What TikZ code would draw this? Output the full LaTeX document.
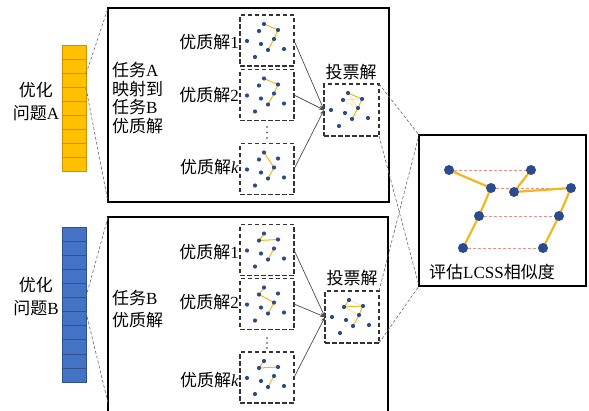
\documentclass[tikz,border=0pt]{standalone}
\usepackage{fontspec}
\setmainfont{Liberation Serif}
\newfontfamily\cjk{Noto Sans CJK SC}
\usetikzlibrary{arrows.meta}
\newcommand\cj[1]{{\cjk #1}}
\definecolor{barY}{HTML}{FFC000}
\definecolor{barYline}{HTML}{D08F00}
\definecolor{barB}{HTML}{4472C4}
\definecolor{barBline}{HTML}{2F528F}
\definecolor{dotblue}{HTML}{2B4C8C}
\definecolor{lineY}{HTML}{F2B71C}
\definecolor{pinkdash}{HTML}{F08C8C}
% #1 box name, #2 solid yellow segments, #3 faint yellow segments
\newcommand\solset[3]{%
  \begin{scope}[shift={(#1.north west)}]
    \foreach \i/\px/\py in {1/24/9,2/19/16,3/38/15,4/7/26,5/21/29,6/34/24,7/28/35,8/44/34,9/15/42}
      {\coordinate (#1-\i) at (\px,\py);}
  \end{scope}
  \foreach \a/\b in {#3} {\draw[ylink, opacity=0.35] (#1-\a) -- (#1-\b);}
  \foreach \a/\b in {#2} {\draw[ylink] (#1-\a) -- (#1-\b);}
  \foreach \i in {1,...,9} {\fill[dotblue] (#1-\i) circle (2.1);}
}
\begin{document}
\begin{tikzpicture}[x=1pt,y=-1pt,
  bigbox/.style={draw=black, line width=1.6pt, inner sep=0pt, outer sep=0pt},
  subbox/.style={draw=black!80, line width=1.1pt, dash pattern=on 4.5pt off 2.5pt,
    minimum width=54pt, minimum height=51pt, inner sep=0pt, outer sep=0pt},
  lbl/.style={font=\fontsize{17}{20}\selectfont, inner sep=0pt},
  zoomline/.style={draw=black!60, line width=0.6pt, dash pattern=on 3pt off 2pt},
  arr/.style={draw=black!70, line width=0.7pt, -{Stealth[length=5pt,width=4pt]}},
  ylink/.style={draw=lineY, line width=1pt},
  bigdot/.style={fill=dotblue},
  thickY/.style={draw=lineY, line width=2.2pt, line join=round},
  pinkline/.style={draw=pinkdash, line width=0.8pt, dash pattern=on 3pt off 2pt},
]
\useasboundingbox (0,0) rectangle (589,410);

% ---------- bars ----------
\node[draw=barYline, fill=barY, line width=0.6pt, minimum width=24pt, minimum height=126pt,
      inner sep=0pt, outer sep=0pt] (barA) at (74,108) {};
\foreach \k in {1,...,8} {\draw[barYline, line width=0.6pt] (62,{45+14*\k}) -- (86,{45+14*\k});}
\node[draw=barBline, fill=barB, line width=0.6pt, minimum width=24pt, minimum height=155pt,
      inner sep=0pt, outer sep=0pt] (barB) at (74,304.5) {};
\foreach \k in {1,...,10} {\draw[barBline, line width=0.6pt] (62,{227+14.09*\k}) -- (86,{227+14.09*\k});}

\node[lbl, align=center] (labA) at (36,101.5) {\cj{优化}\\[3pt]\cj{问题}A};
\node[lbl, align=center] (labB) at (36,296.5) {\cj{优化}\\[3pt]\cj{问题}B};

% ---------- big boxes ----------
\node[bigbox, minimum width=281pt, minimum height=194pt] (boxA) at (248.5,105) {};
\coordinate (boxBbl) at (108,416);
\coordinate (boxBtl) at (108,217);
\coordinate (boxBtr) at (388,217);
\coordinate (boxBbr) at (388,416);
\draw[bigbox] (boxBbl) -- (boxBtl) -- (boxBtr) -- (boxBbr);

% zoom lines from bars
\coordinate (barAup) at (86,74);
\coordinate (barAdn) at (86,88);
\coordinate (barBup) at (86,297);
\coordinate (barBdn) at (86,312);
\coordinate (boxBlow) at (108,403);
\draw[zoomline] (barAup) -- (boxA.north west);
\draw[zoomline] (barAdn) -- (boxA.south west);
\draw[zoomline] (barBup) -- (boxBtl);
\draw[zoomline] (barBdn) -- (boxBlow);

% texts inside big boxes
\node[lbl, align=left, anchor=west] (txtA) at (112,98)
  {\cj{任务}A\\[-1.5pt]\cj{映射到}\\[-1.5pt]\cj{任务}B\\[-1.5pt]\cj{优质解}};
\node[lbl, align=left, anchor=west] (txtB) at (112,309)
  {\cj{任务}B\\[2pt]\cj{优质解}};

% ---------- sub boxes A ----------
\node[subbox] (a1) at (267,40.5) {};
\node[subbox] (a2) at (267,95) {};
\node[subbox] (ak) at (267,169) {};
\node[subbox, minimum width=55pt, minimum height=52pt] (av) at (351.5,110) {};
\node[lbl, anchor=east] (la1) at (239,42) {\cj{优质解}1};
\node[lbl, anchor=east] (la2) at (239,95) {\cj{优质解}2};
\node[lbl, anchor=east] (lak) at (239,167) {\cj{优质解}\textit{k}};
\node[lbl] (lav) at (351,72) {\cj{投票解}};
\foreach \yy in {127,132.5,138} {\fill[black!80] (267,\yy) circle (0.9);}
\draw[arr] (a1.east) -- (av.west);
\draw[arr] (a2.east) -- (av.west);
\draw[arr] (ak.east) -- (av.west);
\solset{a1}{1/3,3/6,6/7}{}
\solset{a2}{1/3,3/6,6/7}{}
\solset{ak}{1/6,6/7}{}
\solset{av}{1/3,3/6,6/7}{2/3,2/6,1/6}

% ---------- sub boxes B ----------
\node[subbox] (b1) at (267,250) {};
\node[subbox] (b2) at (267,304) {};
\node[subbox] (bk) at (267,377.5) {};
\node[subbox, minimum width=54pt, minimum height=52pt] (bv) at (352,317) {};
\node[lbl, anchor=east] (lb1) at (239,252) {\cj{优质解}1};
\node[lbl, anchor=east] (lb2) at (239,302) {\cj{优质解}2};
\node[lbl, anchor=east] (lbk) at (239,380) {\cj{优质解}\textit{k}};
\node[lbl] (lbv) at (352,278) {\cj{投票解}};
\foreach \yy in {338,343,348} {\fill[black!80] (267,\yy) circle (0.9);}
\draw[arr] (b1.east) -- (bv.west);
\draw[arr] (b2.east) -- (bv.west);
\draw[arr] (bk.east) -- (bv.west);
\solset{b1}{1/2,2/3,6/7}{}
\solset{b2}{1/2,2/6,6/7}{}
\solset{bk}{1/2,2/3,6/7}{}
\solset{bv}{1/2,2/3,3/6,6/7}{1/3,2/6}

% ---------- right box ----------
\node[bigbox, minimum width=167pt, minimum height=151pt] (rbox) at (502.5,210.5) {};
\draw[zoomline] (av.north east) -- (rbox.north west);
\draw[zoomline] (av.south east) -- (rbox.south west);
\draw[zoomline] (bv.north east) -- (rbox.north west);
\draw[zoomline] (bv.south east) -- (rbox.south west);

\coordinate (p1) at (449,170);
\coordinate (p2) at (491,188);
\coordinate (p3) at (479,216);
\coordinate (p4) at (463,248);
\coordinate (q1) at (531,170);
\coordinate (q2) at (514,192);
\coordinate (q3) at (571,188);
\coordinate (q4) at (559,216);
\coordinate (q5) at (543,248);
\draw[pinkline] (p1) -- (q1);
\draw[pinkline] (p2) -- (q3);
\draw[pinkline] (p3) -- (q4);
\draw[pinkline] (p4) -- (q5);
\draw[thickY] (p1) -- (p2) -- (p3) -- (p4);
\draw[thickY] (q1) -- (q2) -- (q3) -- (q4) -- (q5);
\foreach \pt in {p1,p2,p3,p4,q1,q2,q3,q4,q5} {\fill[bigdot] (\pt) circle (5);}
\node[lbl] (lcss) at (492,272) {\cj{评估}LCSS\cj{相似度}};
\end{tikzpicture}
\end{document}
